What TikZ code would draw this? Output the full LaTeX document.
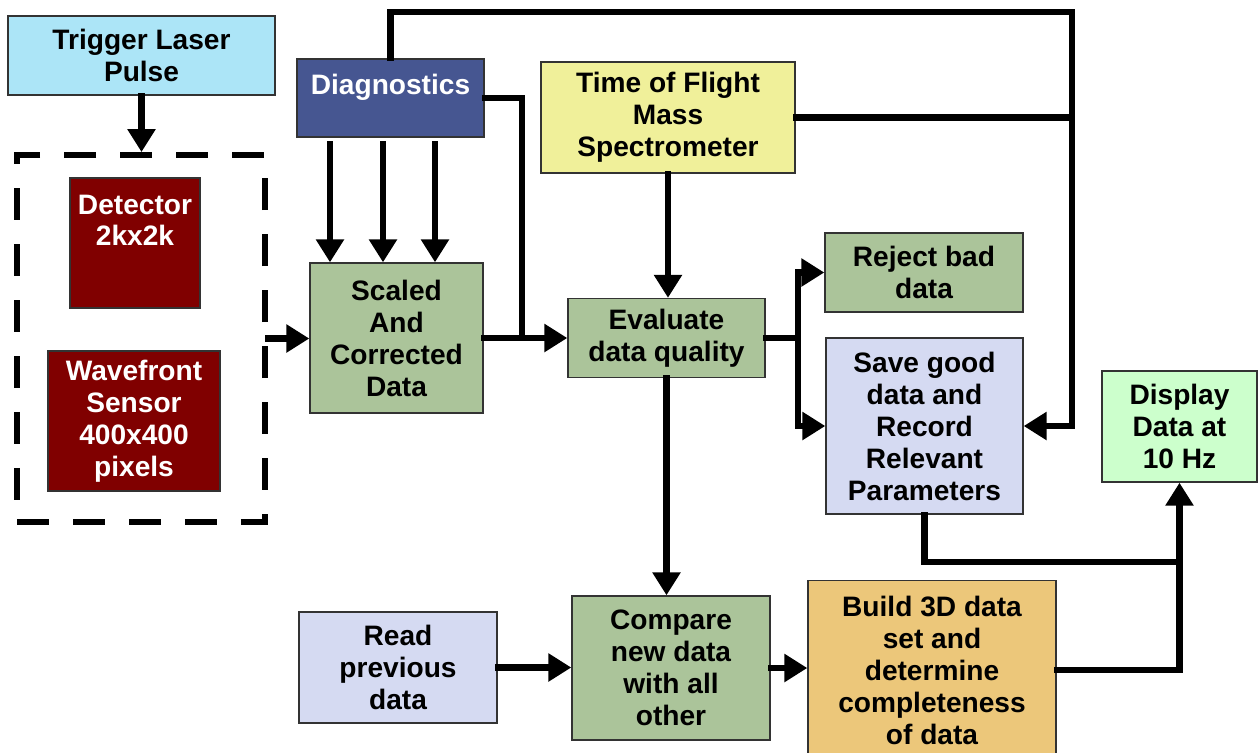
\documentclass[tikz,border=0pt]{standalone}
\usepackage{fontspec}
\setmainfont{Liberation Sans}
\usetikzlibrary{positioning,arrows.meta,calc}
\definecolor{trigFill}{RGB}{172,229,247}
\definecolor{sensFill}{RGB}{128,0,0}
\definecolor{diagFill}{RGB}{70,86,145}
\definecolor{procFill}{RGB}{171,196,154}
\definecolor{tofFill}{RGB}{240,240,154}
\definecolor{saveFill}{RGB}{213,218,242}
\definecolor{dispFill}{RGB}{204,255,204}
\definecolor{buildFill}{RGB}{236,199,122}
\tikzset{
  blk/.style={rectangle, draw=black!80, line width=0.8pt, align=center,
              font=\fontsize{16}{18.2}\selectfont\bfseries, inner sep=0pt},
  txt/.style={align=center, font=\fontsize{16}{18.2}\selectfont\bfseries, inner sep=0pt},
  dashbox/.style={rectangle, draw=black, line width=3.4pt, dash pattern=on 0.64cm off 0.48cm},
  wire/.style={line width=3.6pt, line cap=rect},
  flow/.style={wire, -{Triangle[length=4.6mm,width=5.4mm]}},
}
\begin{document}
\begin{tikzpicture}[x=0.02cm, y=-0.02cm]
  \clip (0,0) rectangle (1259,752);
  % acquisition side
  \node[blk, fill=trigFill, minimum width=5.34cm, minimum height=1.58cm] (trigger) at (141.5,55.5) {Trigger Laser\\Pulse};
  \node[dashbox, minimum width=4.96cm, minimum height=7.34cm] (sensors) at (141,338.5) {};
  \node[blk, fill=sensFill, minimum width=2.6cm, minimum height=2.6cm] (detector) at (135,243) {};
  \node[txt, text=white, below=0.34cm of detector.north] (detlbl) {Detector\\2kx2k};
  \node[blk, fill=sensFill, text=white, minimum width=3.44cm, minimum height=2.8cm] (wavefront) at (134,421) {Wavefront\\Sensor\\400x400\\pixels};
  \node[blk, fill=diagFill, minimum width=3.74cm, minimum height=1.56cm] (diag) at (390.5,98) {};
  \node[txt, text=white, below=0.3cm of diag.north] (diaglbl) {Diagnostics};
  \node[blk, fill=tofFill, minimum width=5.08cm, minimum height=2.22cm] (tof) at (668,117.5) {Time of Flight\\Mass\\Spectrometer};
  % processing
  \node[blk, fill=procFill, minimum width=3.46cm, minimum height=3.0cm] (scaled) at (396.5,338) {Scaled\\And\\Corrected\\Data};
  \node[blk, fill=procFill, minimum width=3.94cm, minimum height=1.58cm] (eval) at (666.5,338) {Evaluate\\data quality};
  \node[blk, fill=procFill, minimum width=3.96cm, minimum height=1.58cm] (reject) at (924,272.5) {Reject bad\\data};
  \node[blk, fill=saveFill, minimum width=3.94cm, minimum height=3.52cm] (save) at (924.5,426) {Save good\\data and\\Record\\Relevant\\Parameters};
  \node[blk, fill=dispFill, minimum width=3.1cm, minimum height=2.22cm] (display) at (1179.5,426.5) {Display\\Data at\\10 Hz};
  \node[blk, fill=saveFill, minimum width=3.96cm, minimum height=2.22cm] (read) at (398,667.5) {Read\\previous\\data};
  \node[blk, fill=procFill, minimum width=3.96cm, minimum height=2.88cm] (compare) at (671,668) {Compare\\new data\\with all\\other};
  \node[blk, fill=buildFill, minimum width=4.96cm, minimum height=3.58cm] (build) at (932,670) {Build 3D data\\set and\\determine\\completeness\\of data};
  % junctions
  \coordinate (topright) at (1072,12);
  \coordinate (diagjoin) at (522,338);
  \coordinate (split) at ($(eval.east)+(32,0)$);
  \coordinate (dispjoin) at (1180,562);
  % connectors
  \draw[flow] (trigger.south) -- (trigger.south |- sensors.north);
  \draw[flow] (sensors.east) -- (sensors.east -| scaled.west);
  \foreach \dx in {-60.5,-7.5,44.5}
    \draw[flow] ($(diag.south)+(\dx,6)$) -- ($(diag.south |- scaled.north)+(\dx,0)$);
  \draw[wire] (diag.east) -| (diagjoin);
  \draw[flow] (scaled.east) -- (scaled.east -| eval.west);
  \draw[flow] (diag.north) |- (topright) |- (save.east);
  \draw[wire] (tof.east) -- (tof.east -| topright);
  \draw[flow] (tof.south) -- (tof.south |- eval.north);
  \draw[flow] (eval.east) -- (split) |- (reject.west);
  \draw[flow] (split) |- (save.west);
  \draw[flow] (eval.south) -- (eval.south |- compare.north);
  \draw[flow] (read.east) -- (read.east -| compare.west);
  \draw[flow] (compare.east) -- (compare.east -| build.west);
  \draw[flow] (build.east) -| (display.south);
  \draw[wire] (save.south) |- (dispjoin);
\end{tikzpicture}
\end{document}
